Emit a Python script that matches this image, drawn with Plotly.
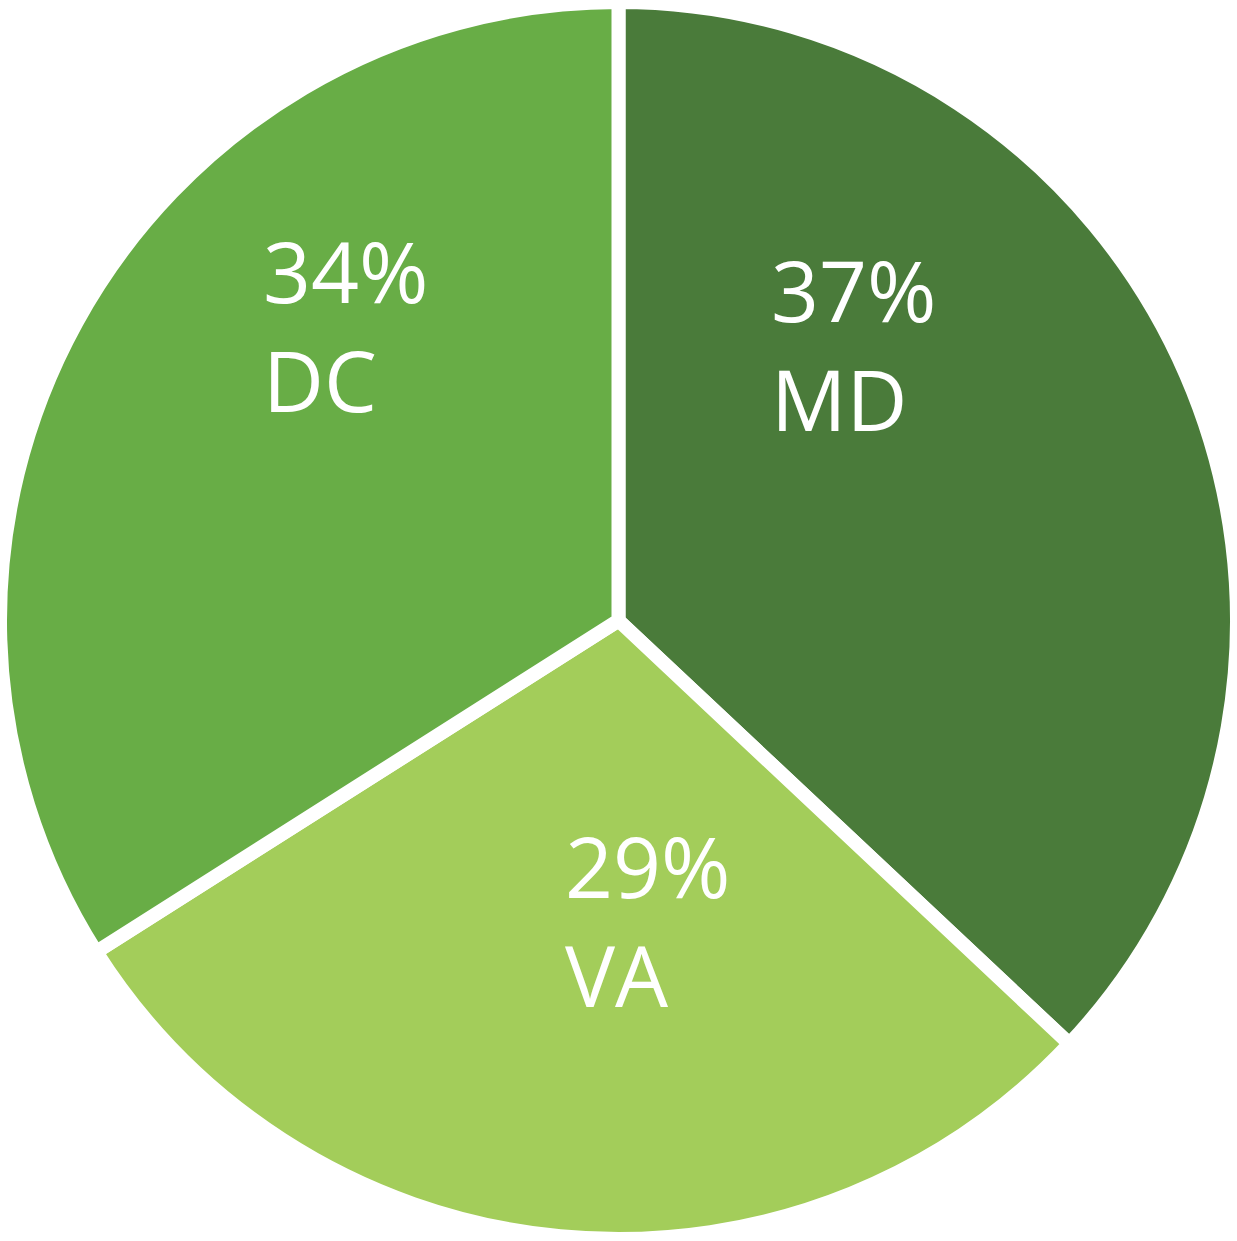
import plotly.graph_objects as go

labels = ["MD", "VA", "DC"]
values = [37, 29, 34]
colors = ["#4a7b3a", "#a3cd5a", "#68ad46"]

# label anchor positions (paper coords) for the in-slice text
label_pos = {"MD": (0.622, 0.723), "VA": (0.455, 0.259), "DC": (0.211, 0.738)}

fig = go.Figure(
    go.Pie(
        labels=labels,
        values=values,
        sort=False,
        direction="clockwise",
        rotation=0,
        marker=dict(colors=colors, line=dict(color="white", width=14)),
        textinfo="none",
        hoverinfo="label+percent",
        showlegend=False,
        domain=dict(x=[0, 1], y=[0, 1]),
    )
)

for lab, val in zip(labels, values):
    x, y = label_pos[lab]
    fig.add_annotation(
        x=x, y=y, xref="paper", yref="paper",
        xanchor="left", yanchor="middle", align="left",
        text=f"{val}%<br>{lab}",
        showarrow=False,
        font=dict(family="Open Sans", size=84, color="white"),
    )

fig.update_layout(
    width=1237, height=1241,
    margin=dict(l=0, r=0, t=0, b=0),
    paper_bgcolor="white",
    plot_bgcolor="white",
)

fig.write_html(
    "out.html",
    config={"displayModeBar": False},
    post_script="document.body.style.margin='0';document.body.style.overflow='hidden';",
)
